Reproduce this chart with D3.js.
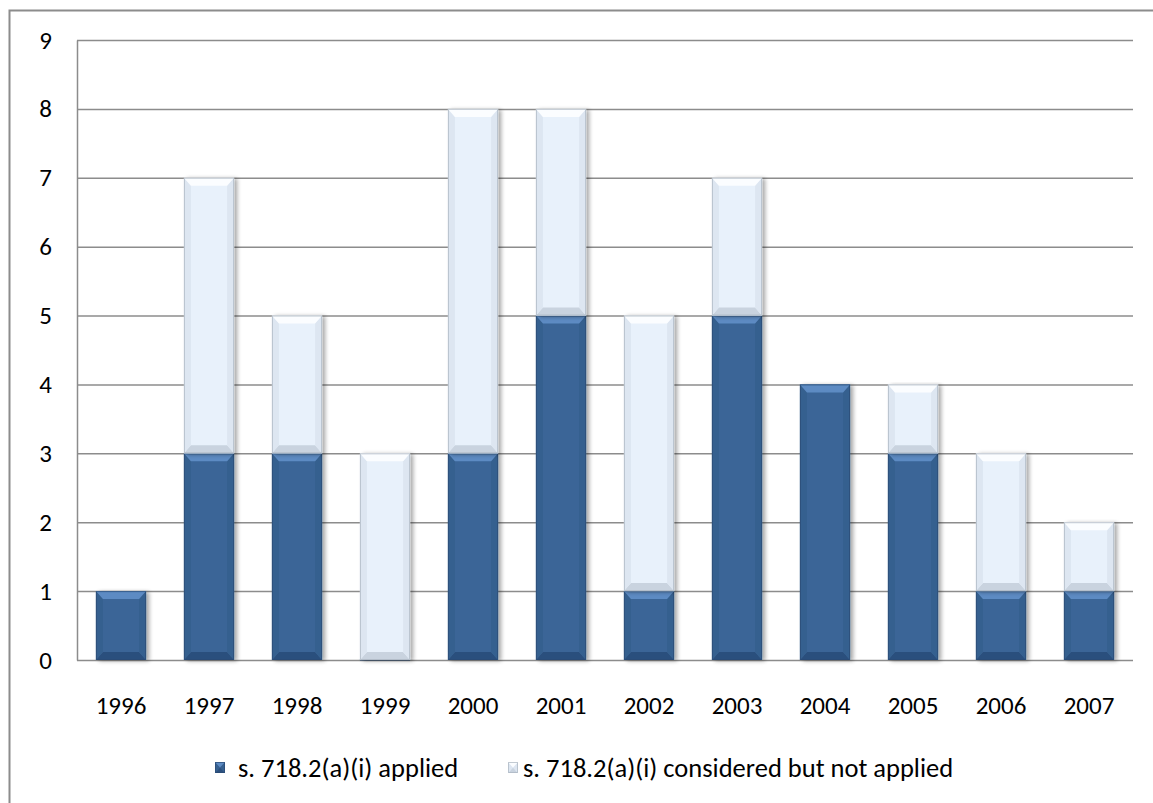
<!DOCTYPE html>
<html>
<head>
<meta charset="utf-8">
<script src="https://cdn.jsdelivr.net/npm/d3@7"></script>
<style>
  body { margin: 0; background: #fff; }
  svg { display: block; }
</style>
</head>
<body>
<div id="chart"></div>
<script>
const years = ["1996", "1997", "1998", "1999", "2000", "2001", "2002", "2003", "2004", "2005", "2006", "2007"];
const applied = [1, 3, 3, 0, 3, 5, 1, 5, 4, 3, 1, 1];
const considered = [0, 4, 2, 3, 5, 3, 4, 2, 0, 1, 2, 1];
const seriesNames = ["s. 718.2(a)(i) applied", "s. 718.2(a)(i) considered but not applied"];
const yTicks = [0, 1, 2, 3, 4, 5, 6, 7, 8, 9];

const width = 1153, height = 803;
const margin = { top: 40, right: 20, bottom: 143, left: 77 };
const font = "Carlito, Calibri, Lato, 'Open Sans', sans-serif";
const fs = 25;

// colour sets for the bevelled bars: face, top, bottom, side, edge
const styles = [
  { face: "#3b6597", top: "#5d8bc3", bottom: "#2b4f7d", side: "#36608f", edge: "#2a4a74" },
  { face: "#e8f1fb", top: "#fbfdff", bottom: "#c9d3df", side: "#dde6f1", edge: "#a9b3bf" }
];

const rows = years.map((y, i) => ({ year: y, applied: applied[i], considered: considered[i] }));
const stack = d3.stack().keys(["applied", "considered"])(rows);

const x = d3.scaleBand()
  .domain(years)
  .range([margin.left, width - margin.right])
  .paddingInner(0.43)
  .paddingOuter(0.215);

const y = d3.scaleLinear()
  .domain([0, 9])
  .range([height - margin.bottom, margin.top]);

const svg = d3.select("#chart").append("svg")
  .attr("width", width)
  .attr("height", height);

const defs = svg.append("defs");
const f = defs.append("filter").attr("id", "shadow")
  .attr("x", "-20%").attr("y", "-5%").attr("width", "150%").attr("height", "115%");
f.append("feGaussianBlur").attr("in", "SourceAlpha").attr("stdDeviation", 2.2).attr("result", "b");
f.append("feOffset").attr("in", "b").attr("dx", 3).attr("dy", 1).attr("result", "o");
f.append("feComponentTransfer").attr("in", "o").attr("result", "s")
  .append("feFuncA").attr("type", "linear").attr("slope", 0.35);
const m = f.append("feMerge");
m.append("feMergeNode").attr("in", "s");
m.append("feMergeNode").attr("in", "SourceGraphic");

// outer chart border (clipped by page edge on right/bottom)
svg.append("rect")
  .attr("x", 9.5).attr("y", 10.5)
  .attr("width", width + 10).attr("height", height + 10)
  .attr("fill", "none")
  .attr("stroke", "#8c8c8c")
  .attr("stroke-width", 2);

// gridlines + y axis
const yAxis = g => g
  .attr("transform", `translate(${margin.left},0)`)
  .call(d3.axisLeft(y).tickValues(yTicks).tickSize(0).tickPadding(25))
  .call(g => g.select(".domain").attr("stroke", "#8c8c8c").attr("stroke-width", 1.5))
  .call(g => g.selectAll(".tick line").clone()
    .attr("x2", width - margin.right - margin.left)
    .attr("stroke", "#8c8c8c")
    .attr("stroke-width", 1.5))
  .call(g => g.selectAll(".tick text")
    .attr("font-family", font)
    .attr("font-size", fs)
    .attr("fill", "#000"));

svg.append("g").call(yAxis);

const xAxis = g => g
  .attr("transform", `translate(0,${height - margin.bottom})`)
  .call(d3.axisBottom(x).tickSize(0).tickPadding(36))
  .call(g => g.select(".domain").remove())
  .call(g => g.selectAll(".tick text")
    .attr("font-family", font)
    .attr("font-size", fs)
    .attr("fill", "#000"));

svg.append("g").call(xAxis);

function bevel(g, x0, y0, w, h, st) {
  const b = Math.min(8, h / 2), s = Math.min(7, w / 2);
  g.append("rect").attr("x", x0).attr("y", y0).attr("width", w).attr("height", h).attr("fill", st.face);
  if (h <= 0) {
    g.append("rect").attr("x", x0).attr("y", y0 - 1).attr("width", w).attr("height", 1.5).attr("fill", st.edge);
    return;
  }
  const poly = (pts, c) => g.append("polygon").attr("points", pts.map(p => p.join(",")).join(" ")).attr("fill", c);
  poly([[x0, y0 + h], [x0 + w, y0 + h], [x0 + w - s, y0 + h - b], [x0 + s, y0 + h - b]], st.bottom);
  poly([[x0, y0], [x0 + s, y0 + b], [x0 + s, y0 + h - b], [x0, y0 + h]], st.side);
  poly([[x0 + w, y0], [x0 + w - s, y0 + b], [x0 + w - s, y0 + h - b], [x0 + w, y0 + h]], st.side);
  poly([[x0, y0], [x0 + w, y0], [x0 + w - s, y0 + b], [x0 + s, y0 + b]], st.top);
  g.append("rect").attr("x", x0 + 0.5).attr("y", y0 + 0.5).attr("width", w - 1).attr("height", h - 1)
    .attr("fill", "none").attr("stroke", st.edge).attr("stroke-width", 1).attr("stroke-opacity", 0.7);
}

stack.forEach((layer, li) => {
  const lg = svg.append("g");
  layer.forEach((d, i) => {
    const x0 = x(years[i]);
    const yTop = y(d[1]), yBot = y(d[0]);
    if (d[1] - d[0] === 0 && li === 1) return;
    const g = lg.append("g").attr("filter", "url(#shadow)");
    bevel(g, x0, yTop, x.bandwidth(), yBot - yTop, styles[li]);
  });
});

// legend
const legend = svg.append("g").attr("font-family", font).attr("font-size", 26.5);
const legendX = [[215, 238], [508, 523]];
seriesNames.forEach((name, i) => {
  const lg = legend.append("g");
  bevel(lg, legendX[i][0], 762, 10, 11, styles[i]);
  lg.append("text").attr("x", legendX[i][1]).attr("y", 777).attr("fill", "#000").text(name);
});
</script>
</body>
</html>
